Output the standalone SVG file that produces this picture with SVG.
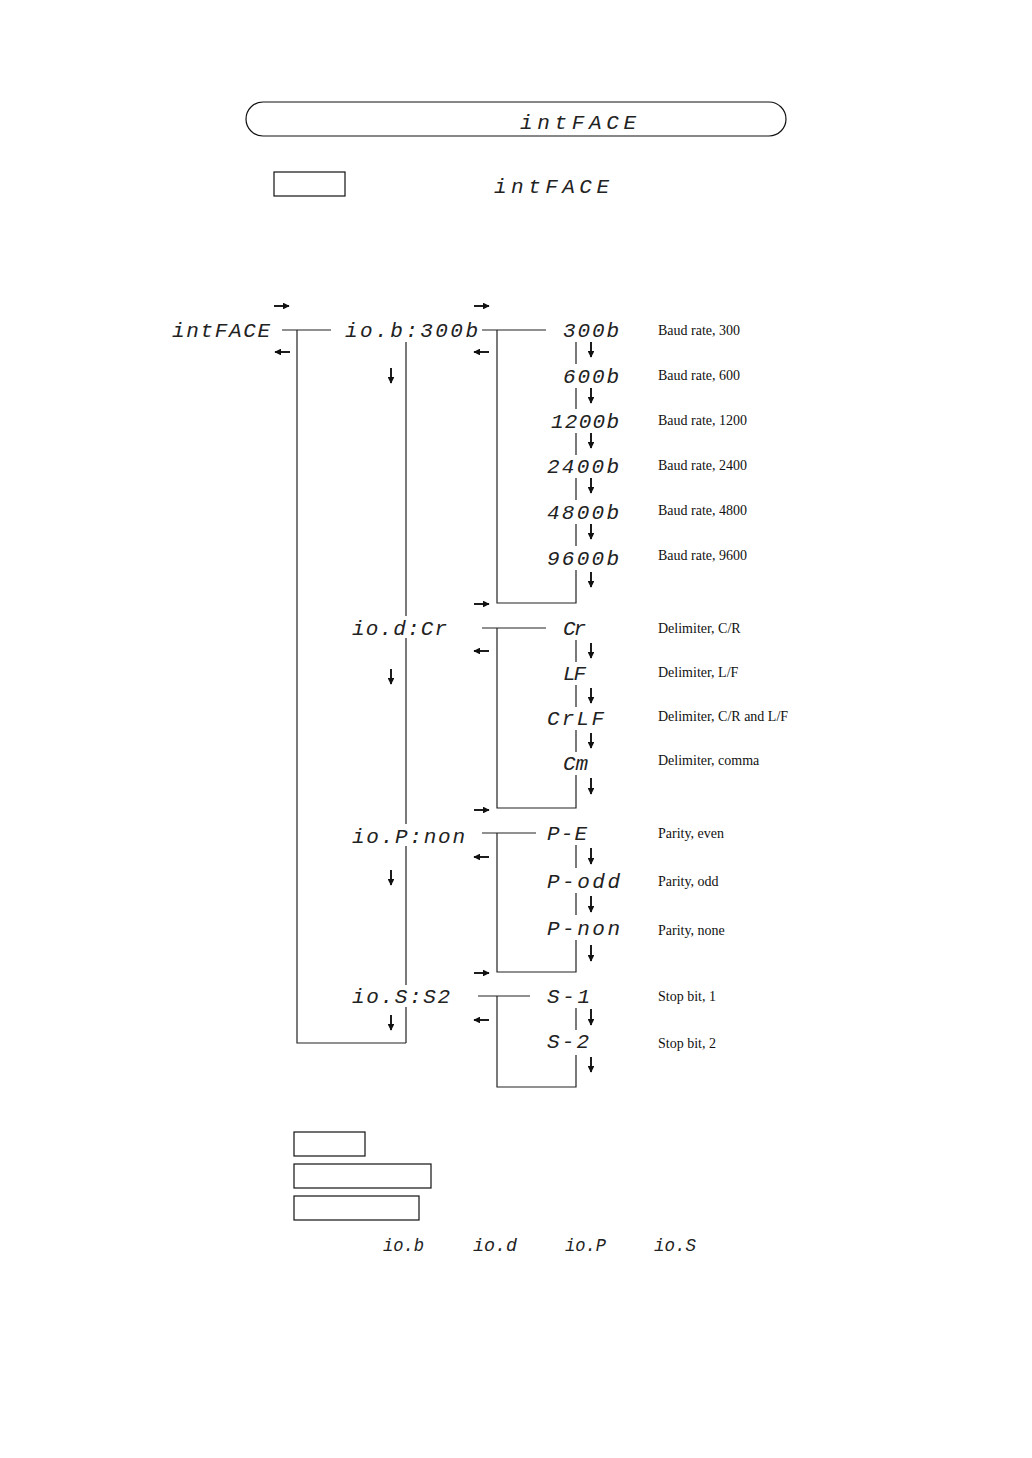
<svg xmlns="http://www.w3.org/2000/svg" width="1032" height="1458" viewBox="0 0 1032 1458">
<style>
.seg{font-family:"Liberation Mono","DejaVu Sans Mono",monospace;font-style:italic;font-size:21px;fill:#222}
.segs{font-family:"Liberation Mono","DejaVu Sans Mono",monospace;font-style:italic;font-size:19px;fill:#222}
.desc{font-family:"Liberation Serif","Times New Roman",serif;font-size:14px;fill:#111}
.ln{stroke:#222;stroke-width:1.2;fill:none}
.ar{stroke:#111;stroke-width:1.9;fill:none;marker-end:url(#ah)}
.box{fill:#fff;stroke:#111;stroke-width:1.2}
</style>
<defs>
<marker id="ah" viewBox="0 0 10 10" refX="9" refY="5" markerWidth="3.6" markerHeight="3.6" orient="auto" markerUnits="strokeWidth">
<path d="M0,0 L10,5 L0,10 z" fill="#111"/>
</marker>
</defs>
<rect width="1032" height="1458" fill="#fff"/>

<g id="title">
<rect class="box" x="246" y="102" width="540" height="34" rx="17"/>
<text class="seg" x="520" y="129" textLength="116" lengthAdjust="spacing">intFACE</text>
</g>
<g id="intro">
<rect class="box" x="274" y="172" width="71" height="24"/>
<text class="seg" x="494" y="193" textLength="115" lengthAdjust="spacing">intFACE</text>
</g>

<g id="connectors">
<path class="ln" d="M282,330 H331 M297,330 V1043 H406 M406,342 V616 M406,638 V824 M406,846 V985 M406,1007 V1043"/>
<path class="ln" d="M482,330 H546 M497,330 V603 H576 V570"/>
<path class="ln" d="M576,342 V364 M576,388 V409 M576,433 V455 M576,478 V500 M576,524 V546"/>
<path class="ln" d="M482,628 H546 M497,628 V808 H576 V775 M576,640 V662 M576,685 V707 M576,730 V752"/>
<path class="ln" d="M482,833 H536 M497,833 V972 H576 V940 M576,845 V868 M576,893 V915"/>
<path class="ln" d="M478,996 H530 M497,996 V1087 H576 V1055 M576,1008 V1030"/>
<path class="ar" d="M274,306 H289"/>
<path class="ar" d="M290,352 H275"/>
<path class="ar" d="M474,306 H489"/>
<path class="ar" d="M489,352 H474"/>
<path class="ar" d="M474,604 H489"/>
<path class="ar" d="M489,651 H474"/>
<path class="ar" d="M474,810 H489"/>
<path class="ar" d="M489,857 H474"/>
<path class="ar" d="M474,973 H489"/>
<path class="ar" d="M489,1020 H474"/>
<path class="ar" d="M391,368 V383"/>
<path class="ar" d="M391,669 V684"/>
<path class="ar" d="M391,870 V885"/>
<path class="ar" d="M391,1015 V1030"/>
<path class="ar" d="M591,342 V357"/>
<path class="ar" d="M591,388 V403"/>
<path class="ar" d="M591,433 V448"/>
<path class="ar" d="M591,478 V493"/>
<path class="ar" d="M591,524 V539"/>
<path class="ar" d="M591,572 V587"/>
<path class="ar" d="M591,643 V658"/>
<path class="ar" d="M591,688 V703"/>
<path class="ar" d="M591,733 V748"/>
<path class="ar" d="M591,778 V794"/>
<path class="ar" d="M591,848 V864"/>
<path class="ar" d="M591,896 V912"/>
<path class="ar" d="M591,945 V961"/>
<path class="ar" d="M591,1009 V1025"/>
<path class="ar" d="M591,1057 V1072"/>
</g>

<g id="node-intface"><text class="seg" x="172" y="337" textLength="98" lengthAdjust="spacing">intFACE</text></g>
<g id="node-iob"><text class="seg" x="345" y="337" textLength="133" lengthAdjust="spacing">io.b:300b</text></g>
<g id="node-300b"><text class="seg" x="563" y="337" textLength="56" lengthAdjust="spacing">300b</text><text class="desc" x="658" y="335">Baud rate, 300</text></g>
<g id="node-600b"><text class="seg" x="563" y="383" textLength="56" lengthAdjust="spacing">600b</text><text class="desc" x="658" y="380">Baud rate, 600</text></g>
<g id="node-1200b"><text class="seg" x="551" y="428" textLength="68" lengthAdjust="spacing">1200b</text><text class="desc" x="658" y="425">Baud rate, 1200</text></g>
<g id="node-2400b"><text class="seg" x="547" y="473" textLength="72" lengthAdjust="spacing">2400b</text><text class="desc" x="658" y="470">Baud rate, 2400</text></g>
<g id="node-4800b"><text class="seg" x="547" y="519" textLength="72" lengthAdjust="spacing">4800b</text><text class="desc" x="658" y="515">Baud rate, 4800</text></g>
<g id="node-9600b"><text class="seg" x="547" y="565" textLength="72" lengthAdjust="spacing">9600b</text><text class="desc" x="658" y="560">Baud rate, 9600</text></g>

<g id="node-iod"><text class="seg" x="352" y="635" textLength="95" lengthAdjust="spacing">io.d:Cr</text></g>
<g id="node-cr"><text class="seg" x="563" y="635" textLength="23" lengthAdjust="spacing">Cr</text><text class="desc" x="658" y="633">Delimiter, C/R</text></g>
<g id="node-lf"><text class="seg" x="563" y="680" textLength="23" lengthAdjust="spacing">LF</text><text class="desc" x="658" y="677">Delimiter, L/F</text></g>
<g id="node-crlf"><text class="seg" x="547" y="725" textLength="57" lengthAdjust="spacing">CrLF</text><text class="desc" x="658" y="721">Delimiter, C/R and L/F</text></g>
<g id="node-cm"><text class="seg" x="563" y="770" textLength="25" lengthAdjust="spacing">Cm</text><text class="desc" x="658" y="765">Delimiter, comma</text></g>

<g id="node-iop"><text class="seg" x="352" y="843" textLength="113" lengthAdjust="spacing">io.P:non</text></g>
<g id="node-pe"><text class="seg" x="547" y="840" textLength="40" lengthAdjust="spacing">P-E</text><text class="desc" x="658" y="838">Parity, even</text></g>
<g id="node-podd"><text class="seg" x="547" y="888" textLength="73" lengthAdjust="spacing">P-odd</text><text class="desc" x="658" y="886">Parity, odd</text></g>
<g id="node-pnon"><text class="seg" x="547" y="935" textLength="73" lengthAdjust="spacing">P-non</text><text class="desc" x="658" y="935">Parity, none</text></g>

<g id="node-ios"><text class="seg" x="352" y="1003" textLength="98" lengthAdjust="spacing">io.S:S2</text></g>
<g id="node-s1"><text class="seg" x="547" y="1003" textLength="43" lengthAdjust="spacing">S-1</text><text class="desc" x="658" y="1001">Stop bit, 1</text></g>
<g id="node-s2"><text class="seg" x="547" y="1048" textLength="42" lengthAdjust="spacing">S-2</text><text class="desc" x="658" y="1048">Stop bit, 2</text></g>

<g id="legend">
<rect class="box" x="294" y="1132" width="71" height="24"/>
<rect class="box" x="294" y="1164" width="137" height="24"/>
<rect class="box" x="294" y="1196" width="125" height="24"/>
<text class="segs" x="383" y="1251" textLength="41" lengthAdjust="spacingAndGlyphs">io.b</text>
<text class="segs" x="473" y="1251" textLength="44" lengthAdjust="spacingAndGlyphs">io.d</text>
<text class="segs" x="565" y="1251" textLength="41" lengthAdjust="spacingAndGlyphs">io.P</text>
<text class="segs" x="654" y="1251" textLength="42" lengthAdjust="spacingAndGlyphs">io.S</text>
</g>
</svg>
